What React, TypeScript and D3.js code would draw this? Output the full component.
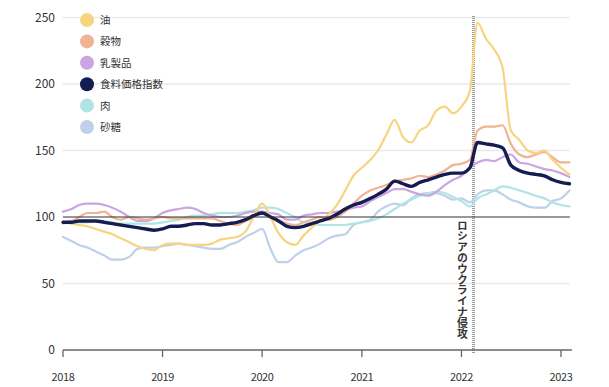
import * as d3 from "d3";

const W = 609;
const H = 387;

// monthly, Jan 2018 .. Feb 2023
const months = d3.timeMonth.range(new Date(2018, 0, 1), new Date(2023, 2, 1));

const oil = [
  96, 95, 94, 93, 91, 89, 87, 84, 81, 78, 76, 75,
  79, 80, 80, 79, 79, 79, 80, 83, 84, 85, 89, 100,
  110, 100, 88, 81, 79, 86, 92, 97, 102, 109, 120, 131,
  137, 143, 150, 162, 173, 160, 156, 165, 169, 180, 183, 178,
  183, 195, 246, 234, 226, 212, 165, 158, 150, 148, 150, 143,
  137, 132,
];
const cereals = [
  96, 97, 100, 103, 103, 104, 100, 98, 100, 99, 98, 99,
  100, 99, 99, 99, 99, 99, 99, 97, 95, 94, 97, 100,
  103, 100, 98, 95, 94, 96, 98, 100, 98, 100, 104, 110,
  116, 120, 122, 124, 127, 128, 129, 131, 130, 132, 135, 139,
  140, 143, 165, 168, 168, 169, 155, 147, 145, 147, 149, 145,
  141, 141,
];
const dairy = [
  104, 106, 109, 110, 110, 109, 107, 104, 100, 97, 97, 99,
  103, 105, 106, 107, 106, 103, 101, 100, 100, 101, 103, 104,
  104, 103, 102, 98, 98, 101, 102, 103, 103, 104, 105, 107,
  108, 112, 115, 118, 121, 121, 119, 117, 116, 119, 124, 128,
  131, 137, 141, 143, 142, 145, 147, 141, 140, 138, 136, 135,
  133, 130,
];
const foodIndex = [
  96, 96, 97, 97, 97, 96, 95, 94, 93, 92, 91, 90,
  91, 93, 93, 94, 95, 95, 94, 94, 95, 96, 98, 101,
  103, 100, 97, 93, 92, 93, 95, 97, 99, 102, 106, 109,
  111, 114, 117, 121, 127, 125, 123, 126, 128, 130, 132, 133,
  133, 137, 156, 155, 154, 152, 139, 135, 133, 132, 131, 128,
  126, 125,
];
const meat = [
  95, 96, 96, 96, 97, 97, 96, 95, 95, 95, 95, 95,
  96, 97, 98, 100, 101, 101, 102, 103, 103, 103, 104, 105,
  107, 107, 106, 103, 100, 96, 95, 94, 94, 94, 94, 95,
  96, 97, 99, 102, 106, 110, 113, 116, 118, 119, 118, 115,
  112, 108, 114, 117, 120, 123, 122, 120, 118, 116, 114, 111,
  109, 108,
];
const sugar = [
  85, 82, 79, 77, 74, 71, 68, 68, 70, 76, 77, 77,
  78, 79, 80, 79, 78, 77, 76, 76, 79, 81, 85, 88,
  91, 76, 66, 66, 71, 75, 77, 80, 84, 86, 87, 94,
  96, 98, 104, 108, 110, 109, 114, 117, 118, 118, 116, 113,
  114, 111, 117, 120, 120, 117, 113, 111, 108, 107, 107, 112,
  114, 120,
];

const seriesNames = ["油", "穀物", "乳製品", "食料価格指数", "肉", "砂糖"];
const seriesColors = ["#f7d480", "#f0b393", "#c9a5e2", "#141c52", "#b0e5e4", "#bfd0ea"];
const seriesValues = [oil, cereals, dairy, foodIndex, meat, sugar];

const yTicks = [0, 50, 100, 150, 200, 250];
const xTicks = [2018, 2019, 2020, 2021, 2022, 2023];

const invasionDate = new Date(2022, 1, 14);
const invasionLabel = "ロシアのウクライナ侵攻";

const FONT = "'Noto Sans CJK JP', 'Noto Sans', sans-serif";

export default function App() {
  const x = d3
    .scaleTime()
    .domain([new Date(2018, 0, 1), new Date(2023, 0, 1)])
    .range([63, 561]);
  const y = d3.scaleLinear().domain([0, 250]).range([350, 17.5]);
  const xEnd = x(new Date(2023, 1, 10));

  const line = d3
    .line<number>()
    .x((_, i) => x(months[i]))
    .y((d) => y(d))
    .curve(d3.curveMonotoneX);

  // draw the index last so it sits on top
  const drawOrder = [5, 4, 2, 1, 0, 3];
  const xi = x(invasionDate);

  return (
    <svg
      width={W}
      height={H}
      style={{ position: "absolute", left: 0, top: 0, background: "#fff" }}
      fontFamily={FONT}
    >
      {/* grid */}
      {yTicks
        .filter((t) => t !== 0 && t !== 100)
        .map((t) => (
          <line key={t} x1={63} x2={xEnd - 2} y1={y(t)} y2={y(t)} stroke="#e9e9e9" strokeWidth={1.5} />
        ))}
      {yTicks.map((t) => (
        <text key={t} x={55} y={y(t) + 4} textAnchor="end" fontSize={12} fill="#333">
          {t}
        </text>
      ))}

      {/* invasion marker */}
      <line x1={xi} x2={xi} y1={16} y2={353} stroke="#9a9a9a" strokeWidth={3} strokeDasharray="1 1" />
      <text
        x={xi - 11}
        y={220}
        fontSize={10.8}
        fontWeight={700}
        fill="#333"
        style={{ writingMode: "vertical-rl", textOrientation: "upright" } as any}
      >
        {invasionLabel}
      </text>

      {/* lines */}
      {drawOrder.map((k) => (
        <path
          key={k}
          d={line(seriesValues[k]) || ""}
          fill="none"
          stroke={seriesColors[k]}
          strokeWidth={k === 3 ? 3.4 : 2.2}
          strokeLinejoin="round"
          strokeLinecap="round"
        />
      ))}

      {/* 100 baseline */}
      <line x1={63} x2={xEnd - 2} y1={y(100)} y2={y(100)} stroke="#333" strokeWidth={1.1} />

      {/* x axis */}
      <line x1={63} x2={xEnd} y1={y(0)} y2={y(0)} stroke="#666" strokeWidth={1.6} />
      {xTicks.map((yr) => {
        const px = x(new Date(yr, 0, 1));
        return (
          <g key={yr}>
            <line x1={px} x2={px} y1={y(0)} y2={y(0) + 7} stroke="#666" strokeWidth={1.3} />
            <text x={px} y={381} textAnchor="middle" fontSize={11} fill="#333" letterSpacing={-0.4}>
              {yr}
            </text>
          </g>
        );
      })}

      {/* legend */}
      {seriesNames.map((name, i) => (
        <g key={name} transform={`translate(87, ${20 + i * 21.4})`}>
          <circle r={7} fill={seriesColors[i]} />
          <text x={13} y={4} fontSize={10.5} fill="#333">
            {name}
          </text>
        </g>
      ))}
    </svg>
  );
}
